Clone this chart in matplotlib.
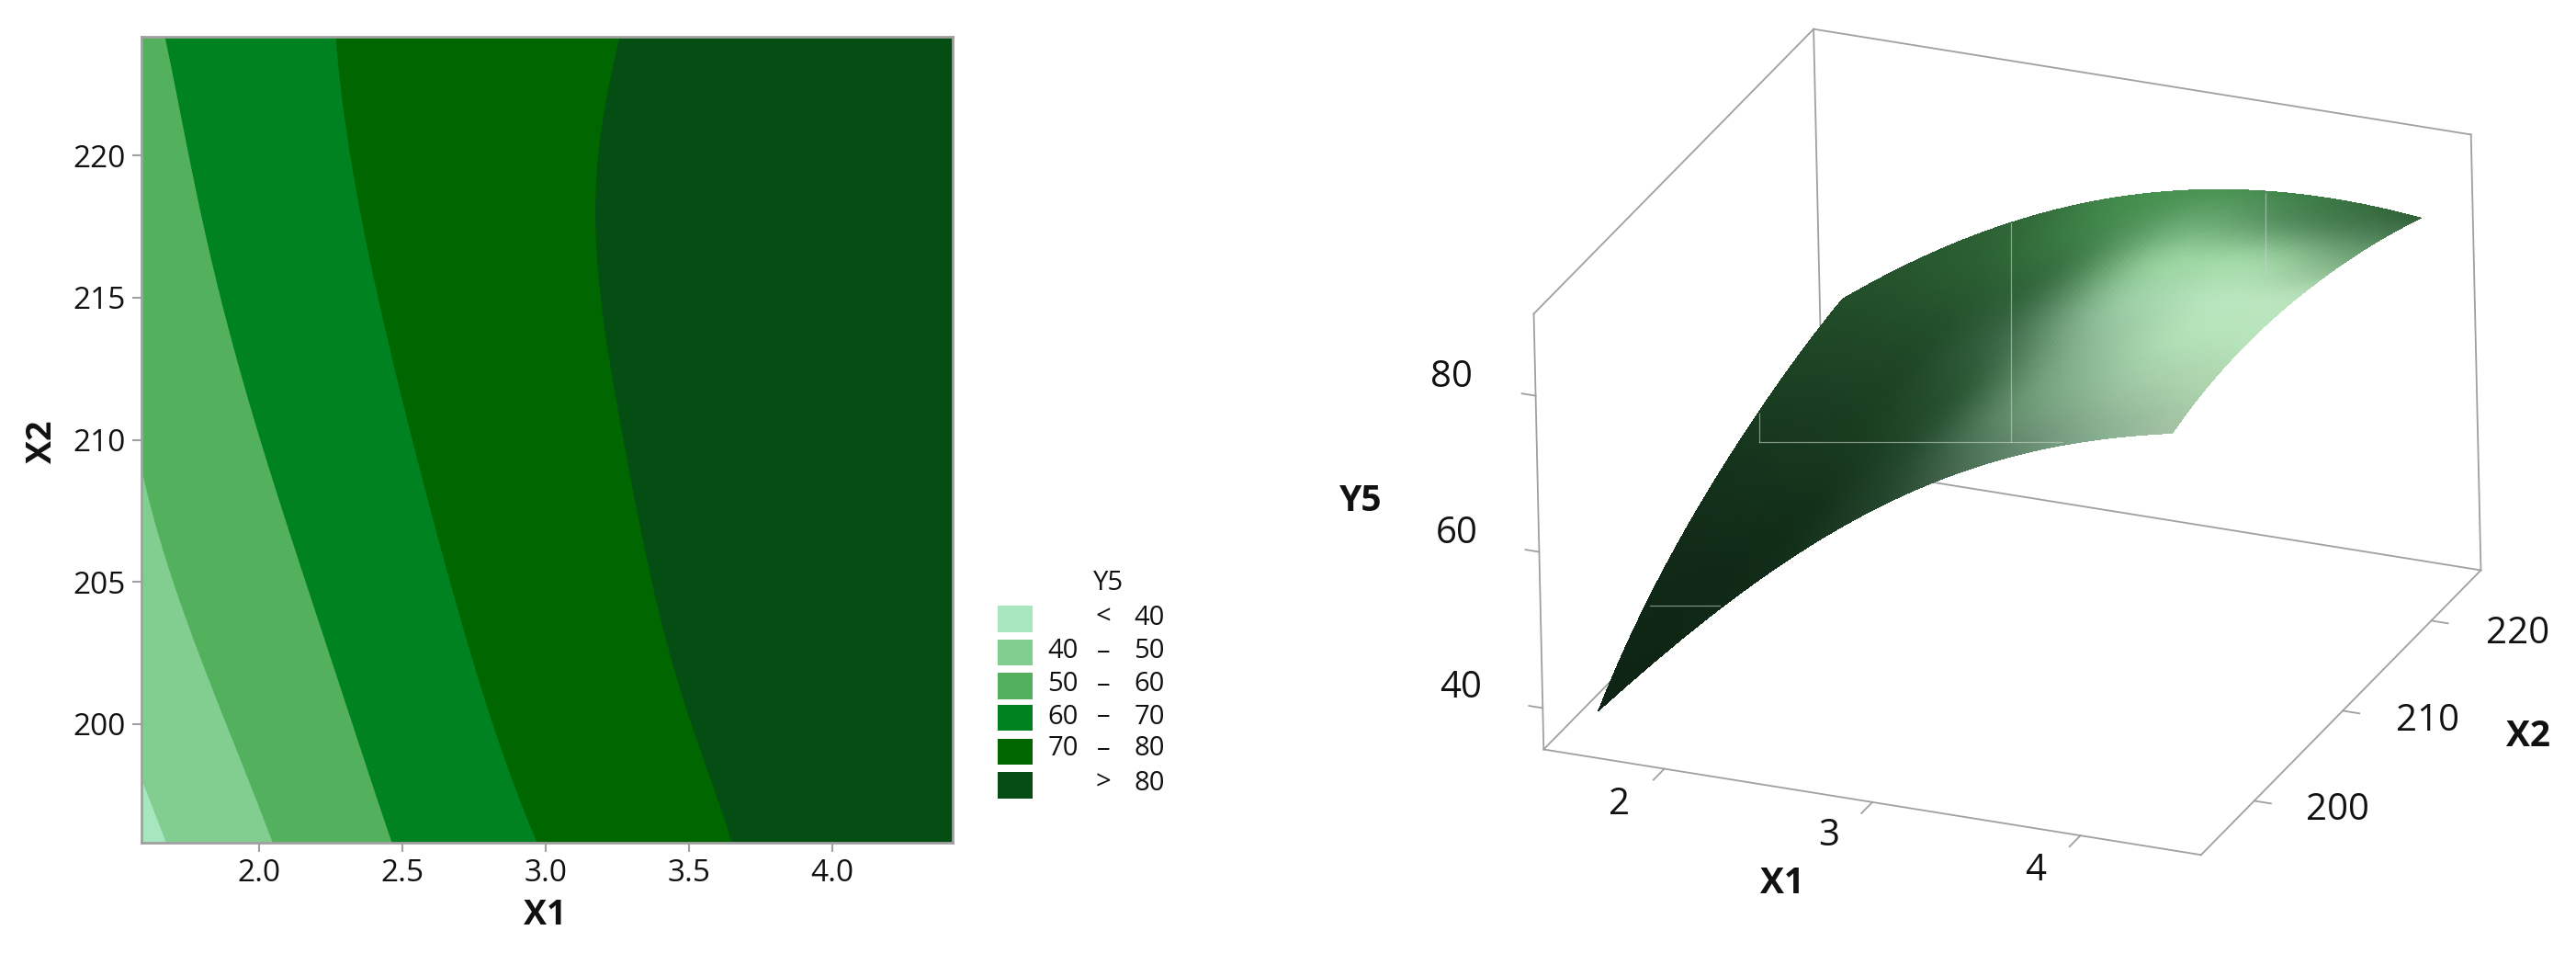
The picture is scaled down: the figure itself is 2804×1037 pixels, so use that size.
import numpy as np
import matplotlib
matplotlib.use("Agg")
import matplotlib.pyplot as plt
from matplotlib.patches import Rectangle
from mpl_toolkits.mplot3d import proj3d

W, H = 2804, 1037
plt.rcParams['font.family'] = ['Open Sans', 'DejaVu Sans']

# ---------- contour boundaries (X1 at given X2)
x2_rows = [195.83, 198, 200, 202.5, 205, 207.5, 210, 212.5, 215, 217.5, 220, 222, 224.17]
b60 = [2.465, 2.385, 2.332, 2.244, 2.159, 2.085, 2.005, 1.928, 1.867, 1.809, 1.756, 1.713, 1.673]
b70 = [2.969, 2.882, 2.823, 2.730, 2.664, 2.598, 2.539, 2.478, 2.406, 2.361, 2.321, 2.290, 2.266]
b80 = [3.647, 3.580, 3.501, 3.434, 3.368, 3.315, 3.275, 3.222, 3.187, 3.177, 3.182, 3.208, 3.256]
x2_b50 = [195.83, 198, 200, 202.5, 205, 207.5, 208.9]
b50 = [2.045, 1.973, 1.880, 1.788, 1.703, 1.628, 1.591]
x2_b40 = [195.83, 196.8, 198.05]
b40 = [1.676, 1.641, 1.591]

level_colors = ['#a8e6bf', '#82ce91', '#53b15d', '#008220', '#006700', '#044e14']
legend_lo = ['', '40', '50', '60', '70', '']
legend_sep = ['<', '–', '–', '–', '–', '>']
legend_hi = ['40', '50', '60', '70', '80', '80']

# ---------- response surface
grid_x1 = [1.6, 2.0, 2.5, 3.0, 3.5, 4.0, 4.4]
grid_x2 = [196, 200, 205, 210, 215, 220, 224]
grid_y5 = [
    [38.0, 48.7, 60.8, 70.5, 77.8, 83.0, 85.6],
    [44.0, 52.6, 63.5, 72.4, 80.0, 84.8, 87.0],
    [48.5, 56.5, 66.8, 74.6, 81.0, 85.6, 87.3],
    [52.5, 60.0, 69.5, 76.0, 81.5, 85.4, 86.6],
    [55.9, 62.2, 71.5, 77.5, 81.8, 84.3, 85.2],
    [57.2, 64.0, 73.0, 77.8, 81.0, 83.2, 82.9],
    [58.8, 65.2, 73.5, 77.5, 80.5, 81.8, 80.8],
]
# surface colour seen at each grid node
grid_red = [
    [14, 15, 18, 35, 85, 130, 165],
    [15, 15, 18, 40, 110, 160, 175],
    [18, 20, 25, 40, 130, 180, 185],
    [20, 25, 28, 60, 155, 186, 188],
    [25, 30, 36, 52, 155, 165, 120],
    [30, 35, 45, 65, 105, 75, 75],
    [35, 40, 50, 70, 70, 55, 45],
]
grid_green = [
    [35, 38, 45, 68, 120, 170, 195],
    [38, 40, 48, 78, 155, 200, 215],
    [42, 50, 60, 85, 175, 228, 228],
    [50, 58, 68, 105, 205, 232, 228],
    [60, 68, 82, 108, 215, 220, 170],
    [70, 80, 100, 135, 170, 130, 125],
    [78, 90, 105, 145, 145, 115, 90],
]
grid_blue = [
    [20, 20, 25, 44, 95, 140, 165],
    [21, 22, 25, 50, 120, 165, 175],
    [24, 27, 30, 50, 140, 185, 188],
    [27, 32, 36, 72, 165, 192, 190],
    [32, 38, 44, 62, 160, 170, 125],
    [38, 42, 52, 75, 115, 85, 85],
    [42, 48, 58, 80, 80, 65, 50],
]
box_x1 = (1.42, 4.58)
box_x2 = (194.0, 225.6)
box_y5 = (34.7, 90.5)
ticks_x1 = [2, 3, 4]
ticks_x2 = [200, 210, 220]
ticks_y5 = [40, 60, 80]

GRAY = '#a0a0a0'
fig = plt.figure(figsize=(W / 100, H / 100), dpi=100, facecolor='white')

# ---------- overlay in reference pixel coordinates
ov = fig.add_axes([0, 0, 1, 1], zorder=5)
ov.set_xlim(0, W); ov.set_ylim(H, 0); ov.axis('off')

# ---------- left: contour panel
L, R, T, B = 153.5, 1036.5, 40, 917
ax = fig.add_axes([L / W, 1 - B / H, (R - L) / W, (B - T) / H])
xlim = (1.59, 4.417)
ax.set_xlim(*xlim); ax.set_ylim(195.83, 224.17)
ax.set_facecolor(level_colors[5])


def smooth(rows, vals, deg):
    r = np.linspace(rows[0], rows[-1], 200)
    c = np.polynomial.Polynomial.fit(rows, vals, deg)
    return r, c(r)


for rows, vals, deg, col in [(x2_rows, b80, 6, 4), (x2_rows, b70, 5, 3), (x2_rows, b60, 5, 2),
                             (x2_b50, b50, 3, 1), (x2_b40, b40, 1, 0)]:
    r, v = smooth(rows, vals, deg)
    ax.fill_betweenx(r, xlim[0], v, color=level_colors[col], lw=0)
ax.set_xticks([2.0, 2.5, 3.0, 3.5, 4.0])
ax.set_yticks([200, 205, 210, 215, 220])
ax.tick_params(colors=GRAY, length=7, width=1.5, labelsize=24, labelcolor='#111111', pad=5)
for s in ax.spines.values():
    s.set_color(GRAY); s.set_linewidth(2)
ov.text(593, 996, 'X1', fontsize=27, fontweight='bold', ha='center', va='center', color='#111111')
ov.text(46, 481, 'X2', fontsize=27, fontweight='bold', ha='center', va='center', rotation=90, color='#111111')

# ---------- legend
sw_top = [659, 696, 732, 767, 804, 840]
sw_bot = [688, 724, 761, 795, 832, 869]
txt_y = [670, 707, 743, 778, 813, 850]
ov.text(1206, 634, 'Y5', fontsize=21, ha='center', va='center', color='#111111')
for i in range(6):
    ov.add_patch(Rectangle((1086, sw_top[i]), 38, sw_bot[i] - sw_top[i], color=level_colors[i], lw=0))
    ov.text(1174, txt_y[i] + 2, legend_lo[i], fontsize=21, ha='right', va='center', color='#111111')
    ov.text(1201, txt_y[i] + 2, legend_sep[i], fontsize=21, ha='center', va='center', color='#111111')
    ov.text(1268, txt_y[i] + 2, legend_hi[i], fontsize=21, ha='right', va='center', color='#111111')

# ---------- right: surface panel
size = 1300
ax3 = fig.add_axes([1500 / W, 0, size / W, size / H], projection='3d', computed_zorder=False)
ax3.set_proj_type('ortho')
ax3.view_init(elev=25.0, azim=-66.5, roll=1.3)
ax3.set_axis_off()
ax3.patch.set_alpha(0)
ax3.set_xlim(*box_x1); ax3.set_ylim(*box_x2); ax3.set_zlim(*box_y5)
aspect = (434.4, 436.6, 292.4)
ax3.set_box_aspect(aspect, zoom=1.0)


def to_px(x, y, z):
    a, b, _ = proj3d.proj_transform(x, y, z, ax3.get_proj())
    return ax3.transData.transform((a, b))


fig.canvas.draw()
x0, x1 = box_x1; y0, y1 = box_x2; z0, z1 = box_y5
pa, pt = to_px(x0, y0, z0), to_px(x1, y1, z1)
target_a = np.array([1679.0, H - 813.5])
target_t = np.array([2691.0, H - 148.4])
zoom = np.linalg.norm(target_t - target_a) / np.linalg.norm(pt - pa)
ax3.set_box_aspect(aspect, zoom=zoom)
fig.canvas.draw()
mid = (to_px(x0, y0, z0) + to_px(x1, y1, z1)) / 2
shift = (target_a + target_t) / 2 - mid
pos = ax3.get_position()
ax3.set_position([pos.x0 + shift[0] / W, pos.y0 + shift[1] / H, pos.width, pos.height])

# rendering mesh: smooth fit (heights) and softened bilinear (colours) from the read grid
gx = np.array(grid_x1); gy = np.array(grid_x2)
mx = np.linspace(gx[0], gx[-1], 100); my = np.linspace(gy[0], gy[-1], 100)


def fit_surface(table, deg):
    t = np.array(table, dtype=float)
    sx = lambda v: (v - 3.0) / 1.4
    sy = lambda v: (v - 210.0) / 14.0
    Vx = np.vander(sx(gx), deg + 1); Vy = np.vander(sy(gy), deg + 1)
    c = np.linalg.pinv(Vy) @ t @ np.linalg.pinv(Vx).T
    return np.vander(sy(my), deg + 1) @ c @ np.vander(sx(mx), deg + 1).T


def soften(a, k=11):
    kernel = np.ones(k) / k
    pad = k // 2
    run = lambda v: np.convolve(np.pad(v, pad, mode='edge'), kernel, mode='valid')
    return np.apply_along_axis(run, 1, np.apply_along_axis(run, 0, a))


def colour_channel(table):
    t = np.array(table, dtype=float)
    along_x = np.array([np.interp(mx, gx, row) for row in t])
    full = np.array([np.interp(my, gy, col) for col in along_x.T]).T
    return soften(full)


MX, MY = np.meshgrid(mx, my)
MZ = fit_surface(grid_y5, 4)
faces = np.clip(np.dstack([colour_channel(grid_red), colour_channel(grid_green), colour_channel(grid_blue)]) / 255, 0, 1)
faces = np.dstack([faces, np.ones(MZ.shape)])

back = [((x0, y1, z1), (x1, y1, z1)), ((x0, y0, z1), (x0, y1, z1)), ((x1, y1, z1), (x1, y1, z0)),
        ((x0, y1, z1), (x0, y1, z0)), ((x0, y1, z0), (x1, y1, z0)), ((x0, y0, z0), (x0, y1, z0)),
        ((x0, y0, z0), (x0, y0, z1)), ((x1, y0, z0), (x1, y1, z0)), ((x0, y0, z0), (x1, y0, z0))]
for p, q in back:
    ax3.plot(*zip(p, q), color=GRAY, lw=1.3, zorder=1)
for v in ticks_y5:
    ax3.plot([x0, x0 - 0.066], [y0, y0], [v, v], color=GRAY, lw=1.3, zorder=1)
for v in ticks_x1:
    ax3.plot([v, v], [y0, y0 - 1.23], [z0, z0], color=GRAY, lw=1.3, zorder=1)
for v in ticks_x2:
    ax3.plot([x1, x1 + 0.08], [v, v], [z0, z0], color=GRAY, lw=1.3, zorder=1)

ax3.plot_surface(MX, MY, MZ, facecolors=faces, rstride=1, cstride=1,
                 shade=False, linewidth=0, antialiased=False, zorder=2)

# faint rendering seams visible on the surface
for xs, ys in [((1915, 2245), (481, 481)), ((1915, 1915), (450, 481)), ((2189, 2189), (243, 481)),
               ((2466, 2466), (210, 298)), ((1796, 1872), (659, 659))]:
    ov.plot(xs, ys, color='#c8d2ca', lw=0.9, alpha=0.6)

# 3D labels
for txt, x, y in [('80', 1580, 411), ('60', 1586, 581), ('40', 1590, 749),
                  ('2', 1763, 876), ('3', 1991, 910), ('4', 2216, 948),
                  ('200', 2544, 882), ('210', 2643, 785), ('220', 2741, 690)]:
    ov.text(x, y, txt, fontsize=29, ha='center', va='center', color='#111111')
for txt, x, y in [('Y5', 1481, 545), ('X1', 1940, 962), ('X2', 2752, 802)]:
    ov.text(x, y, txt, fontsize=28, fontweight='bold', ha='center', va='center', color='#111111')

fig.savefig('out.png', dpi=100, facecolor='white')
